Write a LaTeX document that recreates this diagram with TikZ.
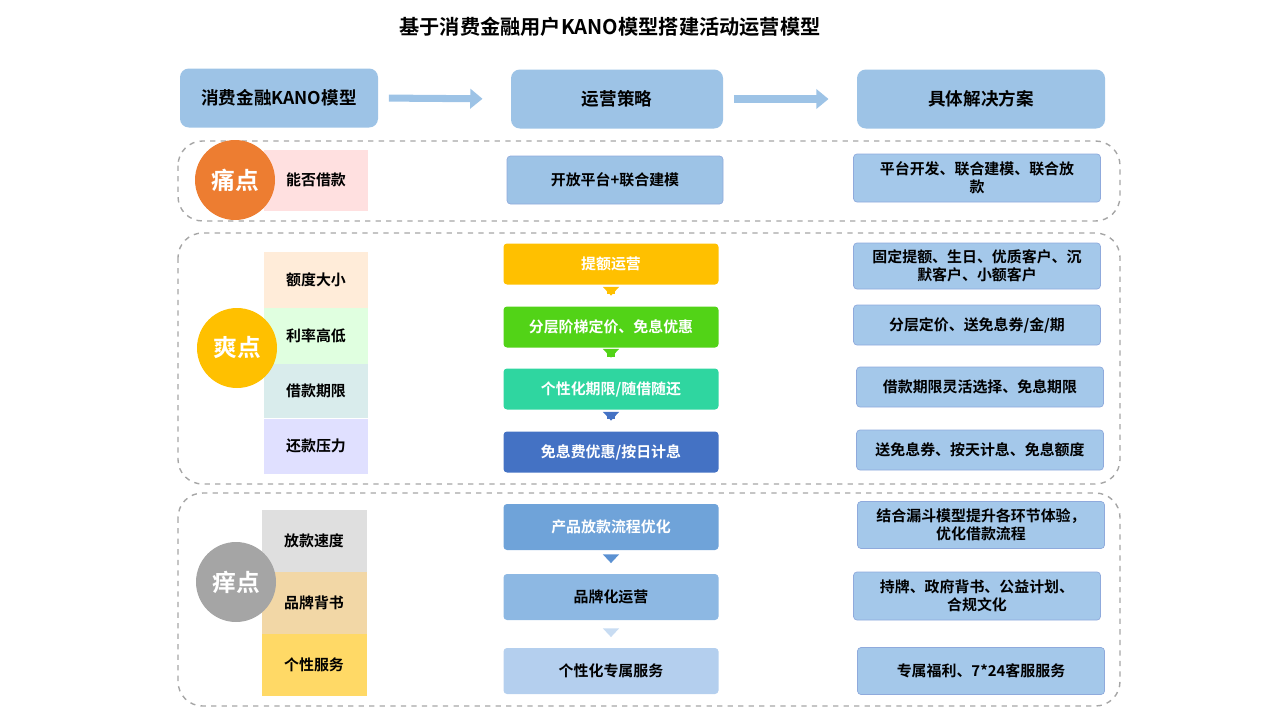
\documentclass[tikz,border=0pt]{standalone}
\usepackage{fontspec}
\setmainfont{Noto Sans CJK SC}[BoldFont={Noto Sans CJK SC Bold}]
\usetikzlibrary{arrows.meta}

\definecolor{hdblue}{HTML}{9DC3E6}
\definecolor{rtblue}{HTML}{A4C8EA}
\definecolor{rtline}{HTML}{8FAADC}
\definecolor{cOrange}{HTML}{ED7D31}
\definecolor{cYellow}{HTML}{FFC000}
\definecolor{cGray}{HTML}{A5A5A5}

\tikzset{
  px/.style={x=0.02cm,y=-0.02cm},
  box/.style 2 args={rectangle,rounded corners=2pt,minimum width=#1*0.02cm,minimum height=#2*0.02cm,
    inner sep=1pt,align=center,font=\bfseries\fontsize{8.5}{10}\selectfont},
  hdbox/.style={box={198}{59},fill=hdblue,rounded corners=5pt,font=\bfseries\fontsize{10}{12}\selectfont},
  rtbox/.style={box={247}{48},fill=rtblue,draw=rtline,thin},
  lfbox/.style={box={104}{56}},
  group/.style={draw=gray!70,dashed,rounded corners=14pt,thick},
  dot/.style={circle,minimum size=80*0.02cm,inner sep=0pt,text=white,font=\bfseries\fontsize{13.5}{14}\selectfont},
  harrow/.style={draw=hdblue,line width=4pt,-{Triangle[length=7pt,width=11pt]},shorten <=6pt,shorten >=16pt},
  varrow/.style={line width=4pt,-{Triangle[length=5pt,width=9pt]},shorten <=5pt,shorten >=6pt}
}

\begin{document}
\begin{tikzpicture}[px]
\useasboundingbox (0,0) rectangle (1280,720);

\node[font=\bfseries\fontsize{11.5}{13}\selectfont] (title) at (610,27) {基于消费金融用户KANO模型搭建活动运营模型};

% header row
\node[hdbox] (hkano) at (279,98) {消费金融KANO模型};
\node[hdbox,minimum width=212*0.02cm] (hplan) at (617,99) {运营策略};
\node[hdbox,minimum width=248*0.02cm] (hsol) at (981,99) {具体解决方案};
\draw[harrow] (hkano.east) -- (hplan.west);
\draw[harrow] (hplan.east) -- (hsol.west);

% groups
\draw[group] (178,141) rectangle (1120,221);
\draw[group] (178,233) rectangle (1120,484);
\draw[group] (178,493) rectangle (1120,706);

% pain point
\node[lfbox,fill=red!12,minimum height=61*0.02cm,rounded corners=0pt] (pain1) at (316,180) {能否借款};
\node[dot,fill=cOrange] (pain) at (235,180) {痛点};
\node[box={216}{48},fill=hdblue,draw=rtline] (painm) at (615,180) {开放平台+联合建模};
\node[rtbox] (pains) at (977,178) {平台开发、联合建模、联合放\\款};

% delight point
\node[lfbox,fill=orange!15,rounded corners=0pt,minimum height=57*0.02cm] (del1) at (316,280) {额度大小};
\node[lfbox,fill=green!12,rounded corners=0pt] (del2) at (316,336) {利率高低};
\node[lfbox,fill=teal!15,rounded corners=0pt,minimum height=54*0.02cm] (del3) at (316,391) {借款期限};
\node[lfbox,fill=blue!12,rounded corners=0pt,minimum height=55*0.02cm] (del4) at (316,446) {还款压力};
\node[dot,fill=cYellow] (del) at (237,348) {爽点};

\node[box={215}{41},fill=cYellow,text=white] (delm1) at (611,264) {提额运营};
\node[box={215}{41},fill={rgb,255:red,82;green,211;blue,23},text=white] (delm2) at (611,327) {分层阶梯定价、免息优惠};
\node[box={215}{41},fill={rgb,255:red,47;green,214;blue,160},text=white] (delm3) at (611,389) {个性化期限/随借随还};
\node[box={215}{41},fill={rgb,255:red,68;green,114;blue,196},text=white] (delm4) at (611,452) {免息费优惠/按日计息};
\draw[varrow,draw=cYellow] (delm1.south) -- (delm2.north);
\draw[varrow,draw={rgb,255:red,82;green,211;blue,23}] (delm2.south) -- (delm3.north);
\draw[varrow,draw={rgb,255:red,68;green,114;blue,196}] (delm3.south) -- (delm4.north);

\node[rtbox,minimum height=46*0.02cm] (dels1) at (977,266) {固定提额、生日、优质客户、沉\\默客户、小额客户};
\node[rtbox,minimum height=40*0.02cm] (dels2) at (977,325) {分层定价、送免息券/金/期};
\node[rtbox,minimum height=40*0.02cm] (dels3) at (980,387) {借款期限灵活选择、免息期限};
\node[rtbox,minimum height=40*0.02cm] (dels4) at (980,450) {送免息券、按天计息、免息额度};

% itch point
\node[lfbox,fill=gray!25,rounded corners=0pt,minimum height=62*0.02cm,minimum width=105*0.02cm] (itc1) at (314,541) {放款速度};
\node[lfbox,fill={rgb,255:red,242;green,215;blue,166},rounded corners=0pt,minimum height=62*0.02cm,minimum width=105*0.02cm] (itc2) at (314,603) {品牌背书};
\node[lfbox,fill={rgb,255:red,255;green,217;blue,102},rounded corners=0pt,minimum height=62*0.02cm,minimum width=105*0.02cm] (itc3) at (314,665) {个性服务};
\node[dot,fill=cGray] (itc) at (236,582) {痒点};

\node[box={215}{46},fill={rgb,255:red,111;green,163;blue,217},text=white] (itcm1) at (611,527) {产品放款流程优化};
\node[box={215}{46},fill={rgb,255:red,141;green,184;blue,227}] (itcm2) at (611,597) {品牌化运营};
\node[box={215}{46},fill={rgb,255:red,180;green,207;blue,238}] (itcm3) at (611,671) {个性化专属服务};
\draw[varrow,draw={rgb,255:red,91;green,145;blue,210}] (itcm1.south) -- (itcm2.north);
\draw[varrow,draw={rgb,255:red,200;green,220;blue,242}] (itcm2.south) -- (itcm3.north);

\node[rtbox,minimum height=47*0.02cm] (itcs1) at (981,525) {结合漏斗模型提升各环节体验，\\优化借款流程};
\node[rtbox] (itcs2) at (977,596) {持牌、政府背书、公益计划、\\合规文化};
\node[rtbox,minimum height=47*0.02cm] (itcs3) at (981,671) {专属福利、7*24客服服务};
\end{tikzpicture}
\end{document}
